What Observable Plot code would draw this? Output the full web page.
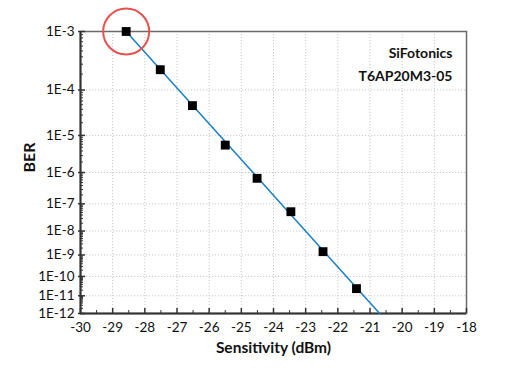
<!DOCTYPE html>
<html>
<head>
<meta charset="utf-8">
<script src="https://cdn.jsdelivr.net/npm/d3@7"></script>
<script src="https://cdn.jsdelivr.net/npm/@observablehq/plot@0.6"></script>
<style>
  html, body { margin: 0; padding: 0; background: #fff; }
  #chart svg { display: block; }
</style>
</head>
<body>
<div id="chart"></div>
<script>
// Measured points
const sensitivity = [-28.58, -27.52, -26.52, -25.5, -24.51, -23.46, -22.46, -21.42];
const ber = [1.0e-3, 2.4e-4, 4.8e-5, 5.7e-6, 6.7e-7, 5.3e-8, 1.4e-9, 2.4e-11];
// Fitted line endpoints
const fitSensitivity = [-28.58, -20.7];
const fitBer = [1e-3, 1e-12];
// Axis ticks
const xTicks = [-30, -29, -28, -27, -26, -25, -24, -23, -22, -21, -20, -19, -18];
const yExponents = [3, 4, 5, 6, 7, 8, 9, 10, 11, 12];
const yTickLabels = ["1E-3", "1E-4", "1E-5", "1E-6", "1E-7", "1E-8", "1E-9", "1E-10", "1E-11", "1E-12"];
const annotationLines = ["SiFotonics", "T6AP20M3-05"];

// BER scale: log10(-log10(BER))
const T = b => Math.log10(-Math.log10(b));
const decT = yExponents.map(k => Math.log10(k));
const labelOf = new Map(decT.map((t, i) => [t, yTickLabels[i]]));
const minorT = [];
for (const k of yExponents.slice(1)) for (let m = 2; m <= 9; m++) minorT.push(T(m * Math.pow(10, -k)));
const xMinor = xTicks.slice(0, -1).map(v => v + 0.5);

const points = sensitivity.map((s, i) => ({s, t: T(ber[i])}));
const fit = fitSensitivity.map((s, i) => ({s, t: T(fitBer[i])}));

const yTop = Math.log10(3), yBot = Math.log10(12);
const font = "Lato, 'Open Sans', sans-serif";

const chart = Plot.plot({
  width: 515,
  height: 381,
  marginLeft: 80,
  marginRight: 49,
  marginTop: 31,
  marginBottom: 68,
  style: {fontFamily: font, fontSize: "13px", color: "#111", background: "#fff"},
  x: {domain: [-30, -18]},
  y: {domain: [yTop, yBot], reverse: true},
  marks: [
    Plot.ruleX(xTicks.slice(1, -1), {stroke: "#c8c8c8", strokeDasharray: "1.2,1.8"}),
    Plot.ruleY(decT.slice(1, -1), {stroke: "#c8c8c8", strokeDasharray: "1.2,1.8"}),
    Plot.frame({stroke: "#6a6a6a", strokeWidth: 1.5}),
    Plot.ruleX([-30], {stroke: "#333", strokeWidth: 2}),
    Plot.ruleY([yBot], {stroke: "#333", strokeWidth: 2}),
    Plot.axisX({ticks: xTicks, tickSize: -5, tickPadding: 14, tickFormat: d => String(d), label: null, fontSize: 13.5, stroke: "#333", strokeWidth: 1.5}),
    Plot.axisX({ticks: xMinor, tickSize: -3, tickFormat: () => "", label: null, stroke: "#333"}),
    Plot.axisY({ticks: decT, tickSize: 2, tickPadding: 4, tickFormat: d => labelOf.get(d), label: null, fontSize: 13.5, stroke: "#333", strokeWidth: 1.5}),
    Plot.axisY({ticks: decT, tickSize: -5, tickFormat: () => "", label: null, stroke: "#333", strokeWidth: 1.5}),
    Plot.axisY({ticks: minorT, tickSize: -3, tickFormat: () => "", label: null, stroke: "#333"}),
    Plot.line(fit, {x: "s", y: "t", stroke: "#1a80c4", strokeWidth: 1.5}),
    Plot.dot(points, {x: "s", y: "t", symbol: "square", r: 5, fill: "#000"}),
    Plot.dot(points.slice(0, 1), {x: "s", y: "t", r: 23, stroke: "#e8504f", strokeWidth: 2, fill: "none"}),
    Plot.text([annotationLines.join("\n")], {frameAnchor: "top-right", textAnchor: "end", lineAnchor: "top", dx: -14, dy: 10, lineHeight: 1.65, fontWeight: "bold", fontSize: 14, fill: "#111"}),
    Plot.text(["Sensitivity (dBm)"], {frameAnchor: "bottom", dy: 39, fontWeight: "bold", fontSize: 15.5, fill: "#111"}),
    Plot.text(["BER"], {frameAnchor: "left", dx: -51, rotate: -90, fontWeight: "bold", fontSize: 16, fill: "#111"})
  ]
});
document.getElementById("chart").append(chart);
</script>
</body>
</html>
